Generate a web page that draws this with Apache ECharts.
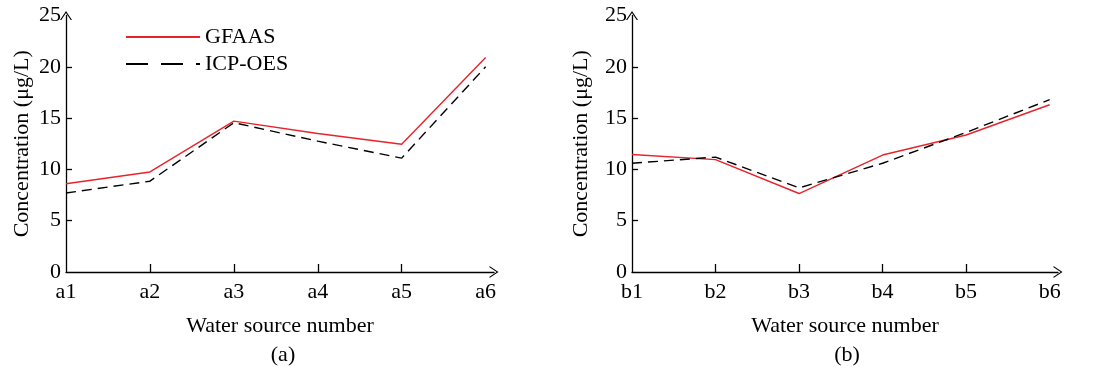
<!DOCTYPE html>
<html>
<head>
<meta charset="utf-8">
<script src="https://cdn.jsdelivr.net/npm/echarts@6/dist/echarts.min.js"></script>
<style>
  html, body { margin: 0; padding: 0; background: #fff; }
  #chart { width: 1100px; height: 370px; }
</style>
</head>
<body>
<div id="chart"></div>
<script>
// categories
const catsA = ['a1', 'a2', 'a3', 'a4', 'a5', 'a6']
const catsB = ['b1', 'b2', 'b3', 'b4', 'b5', 'b6']
// values (µg/L)
const gfaasA = [8.6, 9.75, 14.7, 13.5, 12.45, 20.9]
const icpA = [7.7, 8.85, 14.55, 12.75, 11.1, 20.0]
const gfaasB = [11.45, 10.95, 7.65, 11.4, 13.35, 16.3]
const icpB = [10.6, 11.2, 8.2, 10.6, 13.6, 16.8]
const yTicks = [0, 5, 10, 15, 20, 25]

const font = 'Liberation Serif'
const fs = 22
const red = '#e8232b'
// open chevron used as arrow head
const arrow = 'path://M0,9 L6,0 L12,9 L10.7,9 L6,1.9 L1.3,9 Z'

const toPairs = arr => arr.map((v, i) => [i, v])

function xAxisOf(gridIndex, cats) {
    return {
        gridIndex: gridIndex,
        type: 'value',
        min: 0,
        max: 5.1,
        splitLine: { show: false },
        axisLine: {
            show: true,
            symbol: ['none', arrow],
            symbolSize: [12, 9],
            lineStyle: { color: '#000', width: 1.3 }
        },
        axisTick: {
            show: true,
            inside: true,
            length: 8,
            customValues: [1, 2, 3, 4],
            lineStyle: { color: '#000', width: 1.3 }
        },
        axisLabel: {
            customValues: [0, 1, 2, 3, 4, 5],
            formatter: v => cats[Math.round(v)],
            color: '#000',
            fontFamily: font,
            fontSize: fs,
            margin: 9
        },
        name: 'Water source number',
        nameLocation: 'middle',
        nameGap: 43,
        nameTextStyle: { color: '#000', fontFamily: font, fontSize: fs }
    }
}

function yAxisOf(gridIndex, gap) {
    return {
        gridIndex: gridIndex,
        type: 'value',
        min: 0,
        max: 25,
        interval: 5,
        splitLine: { show: false },
        axisLine: {
            show: true,
            symbol: ['none', arrow],
            symbolSize: [12, 9],
            lineStyle: { color: '#000', width: 1.3 }
        },
        axisTick: {
            show: true,
            inside: true,
            length: 6,
            customValues: [5, 10, 15, 20],
            lineStyle: { color: '#000', width: 1.3 }
        },
        axisLabel: {
            customValues: yTicks,
            color: '#000',
            fontFamily: font,
            fontSize: fs,
            margin: 5
        },
        name: 'Concentration (μg/L)',
        nameLocation: 'middle',
        nameGap: gap,
        nameTextStyle: { color: '#000', fontFamily: font, fontSize: fs }
    }
}

function lineSeries(name, idx, data, dashed) {
    return {
        name: name,
        type: 'line',
        xAxisIndex: idx,
        yAxisIndex: idx,
        data: toPairs(data),
        showSymbol: false,
        symbol: 'none',
        silent: true,
        lineStyle: dashed
            ? { color: '#000', width: 1.4, type: [10, 6] }
            : { color: red, width: 1.4 },
        itemStyle: { color: dashed ? '#000' : red }
    }
}

let myChart = echarts.init(document.getElementById('chart'), null, { renderer: 'canvas' })
let option = {
    animation: false,
    backgroundColor: '#fff',
    grid: [
        { left: 66, top: 15.5, width: 428, height: 256.5 },
        { left: 632, top: 15.5, width: 426, height: 256.5 }
    ],
    legend: {
        left: 120,
        top: 21,
        orient: 'vertical',
        itemWidth: 74,
        itemHeight: 14,
        itemGap: 5,
        itemStyle: { opacity: 0 },
        data: [
            { name: 'GFAAS' },
            { name: 'ICP-OES', lineStyle: { type: [22, 13] } }
        ],
        textStyle: { color: '#000', fontFamily: font, fontSize: fs }
    },
    xAxis: [xAxisOf(0, catsA), xAxisOf(1, catsB)],
    yAxis: [yAxisOf(0, 33), yAxisOf(1, 40)],
    series: [
        lineSeries('GFAAS', 0, gfaasA, false),
        lineSeries('ICP-OES', 0, icpA, true),
        lineSeries('GFAAS', 1, gfaasB, false),
        lineSeries('ICP-OES', 1, icpB, true)
    ],
    graphic: [
        { type: 'text', x: 283, y: 355, style: { text: '(a)', fill: '#000', font: '22px "Liberation Serif"', align: 'center', verticalAlign: 'middle' } },
        { type: 'text', x: 847, y: 355, style: { text: '(b)', fill: '#000', font: '22px "Liberation Serif"', align: 'center', verticalAlign: 'middle' } }
    ]
}
myChart.setOption(option)
window.addEventListener('resize', function () {
    myChart.resize()
})
</script>
</body>
</html>
